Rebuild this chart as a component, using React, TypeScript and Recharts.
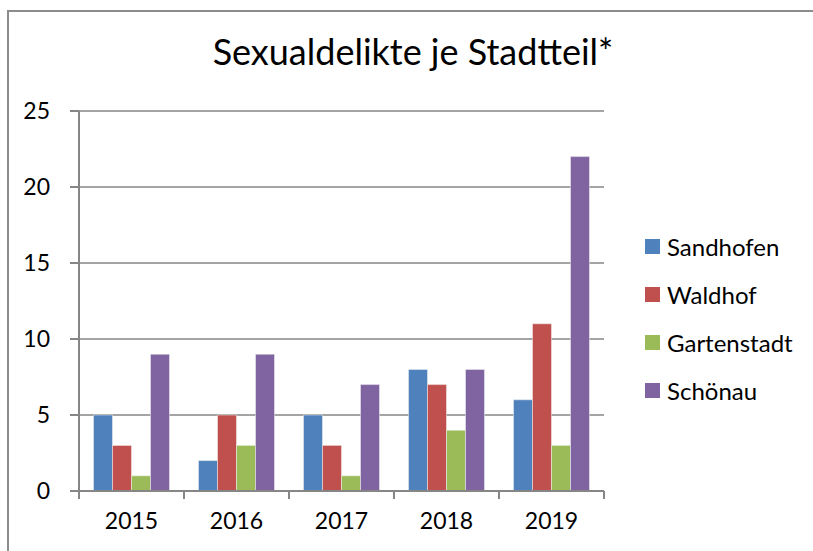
import { Bar, BarChart, CartesianGrid, Legend, XAxis, YAxis } from "recharts";

const years = ["2015", "2016", "2017", "2018", "2019"];
const sandhofen = [5, 2, 5, 8, 6];
const waldhof = [3, 5, 3, 7, 11];
const gartenstadt = [1, 3, 1, 4, 3];
const schoenau = [9, 9, 7, 8, 22];
const yTicks = [0, 5, 10, 15, 20, 25];

const series = [
	{ key: "Sandhofen", color: "#4F81BD" },
	{ key: "Waldhof", color: "#C0504D" },
	{ key: "Gartenstadt", color: "#9BBB59" },
	{ key: "Schönau", color: "#8064A2" },
];

const data = years.map((year, i) => ({
	year,
	Sandhofen: sandhofen[i],
	Waldhof: waldhof[i],
	Gartenstadt: gartenstadt[i],
	Schönau: schoenau[i],
}));

const FONT = "Lato, 'Open Sans', sans-serif";
const AXIS_GRAY = "#868686";
const LABEL_GAP = 22;

// category ticks sit between the groups, so draw them at the band edges
function YearTick(props: any) {
	const { x, y, payload, index } = props;
	const half = payload?.offset ?? 0;
	const axisY = y - LABEL_GAP;
	const isLast = index === years.length - 1;
	return (
		<g>
			<line
				x1={x - half}
				x2={x - half}
				y1={axisY}
				y2={axisY + 8}
				stroke={AXIS_GRAY}
				strokeWidth={2}
			/>
			{isLast && (
				<line
					x1={x + half}
					x2={x + half}
					y1={axisY}
					y2={axisY + 8}
					stroke={AXIS_GRAY}
					strokeWidth={2}
				/>
			)}
			<text
				x={x}
				y={y}
				dy="0.71em"
				textAnchor="middle"
				fontSize={23}
				fontFamily={FONT}
				fill="#000"
			>
				{payload.value}
			</text>
		</g>
	);
}

export default function App() {
	return (
		<div
			style={{
				position: "absolute",
				left: 0,
				top: 0,
				width: 813,
				height: 551,
				overflow: "hidden",
				background: "#fff",
				fontFamily: FONT,
			}}
		>
			<div
				style={{
					position: "absolute",
					left: 7,
					top: 10,
					width: 830,
					height: 570,
					border: "2px solid #8c8c8c",
				}}
			/>
			<div
				style={{
					position: "absolute",
					left: 0,
					top: 29,
					width: 826,
					textAlign: "center",
					fontSize: 36,
					color: "#000",
				}}
			>
				Sexualdelikte je Stadtteil*
			</div>
			<div style={{ position: "absolute", left: 0, top: 0 }}>
				<BarChart
					width={813}
					height={551}
					data={data}
					margin={{ top: 111, right: 39, bottom: 0, left: 0 }}
					barCategoryGap="13.8%"
					barGap={0}
				>
					<CartesianGrid
						vertical={false}
						stroke={AXIS_GRAY}
						strokeWidth={1.5}
					/>
					<XAxis
						dataKey="year"
						height={60}
						interval={0}
						axisLine={{ stroke: AXIS_GRAY, strokeWidth: 2 }}
						tickLine={false}
						tickSize={0}
						tickMargin={LABEL_GAP}
						tick={<YearTick />}
					/>
					<YAxis
						width={79}
						domain={[0, 25]}
						ticks={yTicks}
						interval={0}
						tickSize={9}
						tickMargin={20}
						axisLine={{ stroke: AXIS_GRAY, strokeWidth: 2 }}
						tickLine={{ stroke: AXIS_GRAY, strokeWidth: 2 }}
						tick={{ fontSize: 23, fill: "#000", fontFamily: FONT }}
					/>
					<Legend
						layout="horizontal"
						verticalAlign="middle"
						align="right"
						wrapperStyle={{ left: 645, top: 222, width: 170 }}
						content={() => (
							<div>
								{series.map((s) => (
									<div
										key={s.key}
										style={{
											display: "flex",
											alignItems: "center",
											height: 48,
											fontSize: 24,
											fontFamily: FONT,
											color: "#000",
										}}
									>
										<span
											style={{
												display: "inline-block",
												width: 15,
												height: 15,
												background: s.color,
												marginRight: 7,
											}}
										/>
										{s.key}
									</div>
								))}
							</div>
						)}
					/>
					{series.map((s) => (
						<Bar
							key={s.key}
							dataKey={s.key}
							fill={s.color}
							stroke="#f4f4f4"
							strokeWidth={0.5}
							isAnimationActive={false}
						/>
					))}
				</BarChart>
			</div>
		</div>
	);
}
